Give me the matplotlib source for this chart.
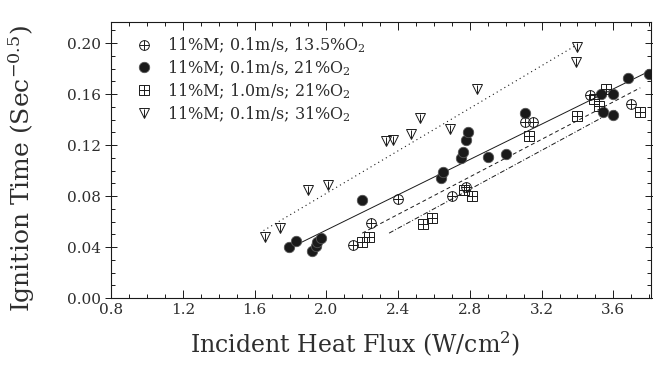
import matplotlib
matplotlib.use('Agg')
import matplotlib.pyplot as plt
from matplotlib.ticker import MultipleLocator

plt.rcParams['font.family'] = ['DejaVu Serif']
plt.rcParams['mathtext.fontset'] = 'dejavuserif'

# 11%M; 0.1m/s, 13.5%O2  (circle with cross)
x_135 = [2.15, 2.25, 2.40, 2.70, 2.78, 3.11, 3.15, 3.47, 3.70]
y_135 = [0.042, 0.059, 0.078, 0.080, 0.087, 0.138, 0.138, 0.159, 0.152]
# 11%M; 0.1m/s, 21%O2  (filled circle)
x_21 = [1.79, 1.83, 1.92, 1.94, 1.95, 1.97, 2.20, 2.64, 2.65, 2.75, 2.76,
        2.78, 2.79, 2.90, 3.00, 3.11, 3.53, 3.54, 3.60, 3.60, 3.68, 3.80]
y_21 = [0.040, 0.045, 0.037, 0.041, 0.044, 0.047, 0.077, 0.094, 0.099, 0.110, 0.115,
        0.124, 0.130, 0.111, 0.113, 0.145, 0.160, 0.146, 0.160, 0.144, 0.173, 0.176]
# 11%M; 1.0m/s; 21%O2  (square with cross)
x_fast = [2.20, 2.24, 2.54, 2.59, 2.77, 2.81, 3.13, 3.40, 3.49, 3.52, 3.56, 3.75]
y_fast = [0.044, 0.048, 0.058, 0.063, 0.085, 0.080, 0.127, 0.143, 0.156, 0.151, 0.164, 0.146]
# 11%M; 0.1m/s; 31%O2  (triangle with bar)
x_31 = [1.66, 1.74, 1.90, 2.01, 2.33, 2.37, 2.47, 2.52, 2.69, 2.84, 3.39, 3.40]
y_31 = [0.048, 0.055, 0.085, 0.089, 0.123, 0.124, 0.129, 0.141, 0.133, 0.164, 0.185, 0.197]

# fitted lines (end points)
fit_135_x, fit_135_y = [2.20, 3.75], [0.051, 0.165]
fit_21_x, fit_21_y = [1.85, 3.80], [0.043, 0.178]
fit_fast_x, fit_fast_y = [2.35, 3.62], [0.051, 0.148]
fit_31_x, fit_31_y = [1.65, 3.40], [0.053, 0.199]

labels = ['11%M; 0.1m/s, 13.5%O$_2$', '11%M; 0.1m/s, 21%O$_2$',
          '11%M; 1.0m/s; 21%O$_2$', '11%M; 0.1m/s; 31%O$_2$']

ink = '#1a1a1a'
txt = '#2e2e2e'
fig = plt.figure(figsize=(6.53, 3.69), dpi=100)
ax = fig.add_axes([0.170, 0.192, 0.827, 0.748])

ax.plot(fit_21_x, fit_21_y, color=ink, lw=0.7)
ax.plot(fit_135_x, fit_135_y, color=ink, lw=0.7, ls=(0, (4, 3)))
ax.plot(fit_fast_x, fit_fast_y, color=ink, lw=0.7, ls=(0, (5, 2, 1, 2)))
ax.plot(fit_31_x, fit_31_y, color=ink, lw=0.8, ls=(0, (1, 3)))

ms = 7
h1a, = ax.plot(x_135, y_135, 'o', mfc='none', mec=ink, ms=ms, mew=0.7)
h1b, = ax.plot(x_135, y_135, '+', color=ink, ms=ms, mew=0.7)
h2, = ax.plot(x_21, y_21, 'o', color=ink, mec='#555555', ms=ms + 0.5, mew=0.6)
h3a, = ax.plot(x_fast, y_fast, 's', mfc='none', mec=ink, ms=ms, mew=0.7)
h3b, = ax.plot(x_fast, y_fast, '+', color=ink, ms=ms, mew=0.7)
h4a, = ax.plot(x_31, y_31, 'v', mfc='none', mec=ink, ms=ms, mew=0.7)
h4b, = ax.plot(x_31, y_31, '|', color=ink, ms=ms * 0.8, mew=0.7)

ax.legend([(h1a, h1b), h2, (h3a, h3b), (h4a, h4b)], labels, loc='upper left',
          bbox_to_anchor=(0.035, 0.975), frameon=False, fontsize=11.5,
          handlelength=1.0, handletextpad=0.9, labelspacing=0.22,
          borderaxespad=0.0, labelcolor=txt)

ax.set_xlim(0.8, 3.81)
ax.set_ylim(0.0, 0.2165)
ax.xaxis.set_major_locator(MultipleLocator(0.4))
ax.xaxis.set_minor_locator(MultipleLocator(0.1))
ax.yaxis.set_major_locator(MultipleLocator(0.04))
ax.yaxis.set_minor_locator(MultipleLocator(0.01))
ax.xaxis.set_major_formatter(plt.FuncFormatter(lambda v, p: f'{v:.1f}'))
ax.yaxis.set_major_formatter(plt.FuncFormatter(lambda v, p: f'{v:.2f}'))

ax.tick_params(which='both', direction='in', top=True, right=True, color=ink,
               labelsize=11, labelcolor=txt, width=0.7)
ax.tick_params(which='major', length=6)
ax.tick_params(which='minor', length=3)
ax.tick_params(axis='y', which='major', direction='inout', length=8, pad=3)
for s in ax.spines.values():
    s.set_linewidth(0.8)
    s.set_color(ink)

ax.set_xlabel('Incident Heat Flux (W/cm$^2$)', fontsize=17, color=txt)
ax.set_ylabel('Ignition Time (Sec$^{-0.5}$)', fontsize=18, color=txt)
ax.xaxis.set_label_coords(0.452, -0.115)
ax.yaxis.set_label_coords(-0.137, 0.47)

plt.savefig('out.png', dpi=100)
